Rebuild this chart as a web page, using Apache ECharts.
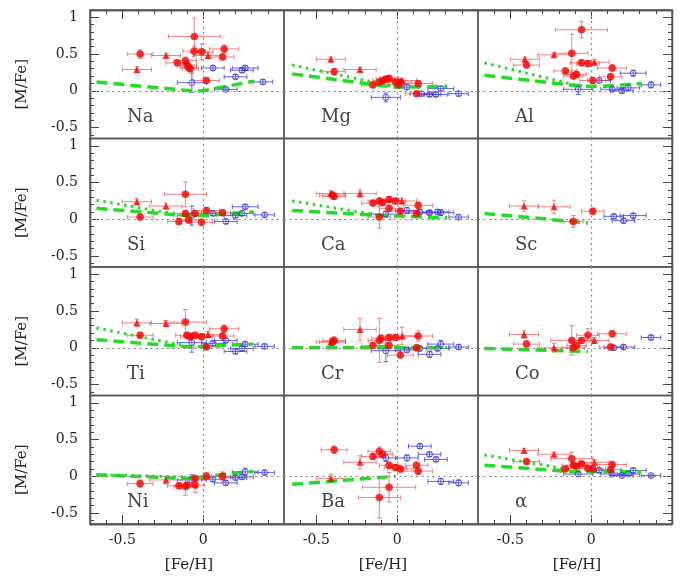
<!DOCTYPE html>
<html><head><meta charset="utf-8">
<script src="https://cdn.jsdelivr.net/npm/echarts@6/dist/echarts.min.js"></script>
<style>html,body{margin:0;padding:0;background:#fff}#c{width:681px;height:584px}</style>
</head><body><div id="c"></div><script>
// ---- tick values ----
const X_MINOR = [-0.6,-0.5,-0.4,-0.3,-0.2,-0.1,0,0.1,0.2,0.3,0.4];
const X_MAJOR = [-0.5,0];
const Y_MINOR = [-0.6,-0.5,-0.4,-0.3,-0.2,-0.1,0,0.1,0.2,0.3,0.4,0.5,0.6,0.7,0.8,0.9,1.0];
const Y_MAJOR = [-0.5,0,0.5,1];
const X_MIN=-0.7, X_MAX=0.5, Y_MIN=-0.65, Y_MAX=1.1;
const LABELS = ['Na','Mg','Al','Si','Ca','Sc','Ti','Cr','Co','Ni','Ba','α'];

// ---- data: [Fe/H], [M/Fe], errFe, errM ----
const Na_circ = [[-0.39,0.50,0.08,0.06],[-0.055,0.74,0.16,0.25],[-0.055,0.54,0.07,0.07],[-0.01,0.53,0.07,0.11],[0.13,0.57,0.09,0.05],[0.12,0.46,0.07,0.04],[-0.16,0.38,0.07,0.04],[-0.11,0.41,0.07,0.05],[-0.10,0.35,0.06,0.05],[-0.09,0.32,0.05,0.05],[-0.08,0.30,0.05,0.04],[0.02,0.14,0.08,0.04]];
const Na_tri = [[-0.41,0.29,0.09,0.04],[-0.23,0.48,0.09,0.03],[0.03,0.48,0.09,0.04]];
const Na_open = [[-0.07,0.11,0.09,0.13],[0.06,0.31,0.07,0.03],[0.14,0.02,0.07,0.02],[0.20,0.19,0.07,0.03],[0.24,0.28,0.07,0.03],[0.26,0.31,0.08,0.03],[0.37,0.12,0.06,0.03]];
const Na_dash = [[-0.66,0.12],[-0.08,0.0],[0.0,0.0],[0.31,0.13]];
const Na_dot = [];

const Mg_circ = [[-0.39,0.26,0.07,0.04],[-0.15,0.08,0.07,0.03],[-0.11,0.12,0.06,0.03],[-0.09,0.14,0.06,0.03],[-0.07,0.16,0.06,0.03],[-0.05,0.17,0.06,0.03],[-0.01,0.12,0.06,0.03],[0.01,0.08,0.07,0.03],[0.02,0.12,0.07,0.03],[0.13,0.10,0.09,0.03],[0.12,-0.04,0.07,0.03]];
const Mg_tri = [[-0.41,0.43,0.09,0.03],[-0.23,0.29,0.10,0.03],[0.03,0.14,0.09,0.03]];
const Mg_open = [[-0.07,-0.09,0.09,0.06],[0.06,0.05,0.07,0.03],[0.15,-0.04,0.07,0.03],[0.20,-0.05,0.07,0.03],[0.24,-0.05,0.07,0.03],[0.27,0.03,0.08,0.03],[0.38,-0.04,0.06,0.03]];
const Mg_dash = [[-0.65,0.23],[-0.10,0.07],[0.0,0.05],[0.31,0.06]];
const Mg_dot = [[-0.65,0.35],[0.0,0.05]];

const Al_circ = [[-0.06,0.83,0.16,0.11],[-0.12,0.51,0.10,0.26],[-0.40,0.35,0.08,0.04],[-0.06,0.38,0.07,0.04],[-0.02,0.37,0.07,0.04],[0.13,0.31,0.09,0.04],[-0.16,0.27,0.07,0.04],[-0.11,0.20,0.06,0.04],[-0.09,0.22,0.06,0.04],[0.01,0.14,0.08,0.04],[0.12,0.19,0.07,0.04]];
const Al_tri = [[-0.41,0.43,0.09,0.03],[-0.23,0.49,0.10,0.03],[0.02,0.39,0.09,0.04]];
const Al_open = [[-0.08,0.02,0.09,0.07],[0.05,0.14,0.07,0.02],[0.13,0.02,0.07,0.03],[0.19,0.0,0.07,0.03],[0.23,0.04,0.07,0.03],[0.26,0.24,0.08,0.04],[0.37,0.08,0.06,0.04]];
const Al_dash = [[-0.66,0.21],[-0.05,0.06],[0.08,0.06],[0.31,0.10]];
const Al_dot = [[-0.66,0.38],[-0.10,0.08],[0.0,0.05]];

const Si_circ = [[-0.11,0.34,0.13,0.17],[-0.39,0.03,0.08,0.04],[-0.15,-0.03,0.07,0.04],[-0.11,0.08,0.07,0.04],[-0.09,-0.01,0.06,0.04],[-0.05,0.08,0.06,0.04],[-0.01,-0.04,0.07,0.04],[0.02,0.12,0.08,0.04],[0.12,0.09,0.07,0.04]];
const Si_tri = [[-0.41,0.24,0.09,0.04],[-0.23,0.18,0.10,0.04]];
const Si_open = [[-0.07,0.05,0.09,0.13],[0.06,0.08,0.07,0.03],[0.14,-0.03,0.07,0.03],[0.20,0.05,0.07,0.03],[0.24,0.08,0.07,0.03],[0.26,0.17,0.08,0.03],[0.38,0.06,0.06,0.03]];
const Si_dash = [[-0.66,0.15],[-0.10,0.05],[0.0,0.05],[0.31,0.10]];
const Si_dot = [[-0.66,0.26],[-0.12,0.05]];

const Ca_circ = [[-0.40,0.33,0.08,0.04],[-0.39,0.31,0.07,0.04],[-0.15,0.22,0.07,0.04],[-0.11,0.03,0.07,0.15],[-0.11,0.25,0.07,0.04],[-0.09,0.23,0.06,0.04],[-0.05,0.27,0.06,0.04],[-0.05,0.15,0.06,0.04],[-0.01,0.25,0.06,0.04],[0.02,0.11,0.08,0.04],[0.13,0.19,0.09,0.04],[0.12,0.08,0.07,0.04]];
const Ca_tri = [[-0.41,0.35,0.09,0.04],[-0.23,0.35,0.10,0.05],[0.03,0.25,0.09,0.04]];
const Ca_open = [[-0.07,0.07,0.09,0.04],[0.06,0.12,0.07,0.04],[0.14,0.10,0.07,0.03],[0.20,0.09,0.07,0.03],[0.25,0.10,0.07,0.03],[0.27,0.09,0.08,0.04],[0.38,0.03,0.06,0.03]];
const Ca_dash = [[-0.65,0.12],[-0.09,0.05],[0.31,0.02]];
const Ca_dot = [[-0.65,0.25],[-0.10,0.05]];

const Sc_circ = [[-0.11,-0.03,0.06,0.08],[0.01,0.11,0.07,0.04]];
const Sc_tri = [[-0.415,0.18,0.09,0.07],[-0.23,0.17,0.10,0.09]];
const Sc_open = [[0.14,0.04,0.06,0.03],[0.20,-0.02,0.07,0.03],[0.26,0.05,0.08,0.03]];
const Sc_dash = [[-0.66,0.08],[-0.02,-0.05]];
const Sc_dot = [];

const Ti_circ = [[-0.11,0.35,0.13,0.17],[-0.39,0.17,0.08,0.04],[-0.10,0.17,0.07,0.04],[-0.08,0.15,0.06,0.04],[-0.05,0.17,0.06,0.04],[-0.01,0.15,0.07,0.04],[0.02,0.01,0.08,0.03],[0.12,0.16,0.07,0.04],[0.13,0.26,0.09,0.05]];
const Ti_tri = [[-0.41,0.34,0.09,0.05],[-0.23,0.33,0.10,0.04],[0.03,0.18,0.09,0.04]];
const Ti_open = [[-0.07,0.07,0.09,0.13],[0.06,0.06,0.07,0.03],[0.14,0.10,0.07,0.03],[0.20,-0.05,0.07,0.03],[0.24,-0.01,0.07,0.03],[0.26,0.05,0.08,0.03],[0.38,0.02,0.06,0.03]];
const Ti_dash = [[-0.66,0.11],[-0.08,0.01],[0.31,0.05]];
const Ti_dot = [[-0.66,0.27],[-0.12,0.03]];

const Cr_circ = [[-0.40,0.08,0.08,0.04],[-0.39,0.10,0.07,0.05],[-0.15,0.03,0.07,0.04],[-0.11,0.10,0.07,0.30],[-0.10,0.13,0.06,0.04],[-0.05,0.14,0.06,0.04],[-0.01,0.14,0.06,0.04],[-0.05,0.03,0.06,0.04],[0.02,-0.10,0.08,0.04],[0.13,0.16,0.09,0.07],[0.12,0.0,0.07,0.04]];
const Cr_tri = [[-0.41,0.08,0.09,0.05],[-0.23,0.25,0.10,0.15],[0.03,0.16,0.09,0.12]];
const Cr_open = [[-0.07,-0.04,0.09,0.15],[0.06,-0.03,0.07,0.03],[0.14,-0.01,0.07,0.03],[0.20,-0.09,0.07,0.04],[0.25,-0.01,0.07,0.03],[0.27,0.05,0.08,0.05],[0.38,0.01,0.06,0.03]];
const Cr_dash = [[-0.65,0.0],[0.31,0.0]];
const Cr_dot = [];

const Co_circ = [[-0.40,0.05,0.08,0.04],[-0.12,0.10,0.13,0.20],[-0.11,0.0,0.07,0.04],[-0.09,0.03,0.06,0.04],[-0.06,0.10,0.06,0.04],[-0.02,0.17,0.07,0.09],[0.13,0.19,0.09,0.04],[0.12,0.01,0.07,0.04]];
const Co_tri = [[-0.415,0.18,0.09,0.05],[-0.23,0.0,0.10,0.06],[0.02,0.10,0.09,0.04]];
const Co_open = [[0.14,0.0,0.06,0.03],[0.20,0.01,0.07,0.03],[0.37,0.14,0.06,0.03]];
const Co_dash = [[-0.66,-0.01],[-0.02,-0.05]];
const Co_dot = [];

const Ni_circ = [[-0.39,-0.10,0.08,0.05],[-0.15,-0.13,0.07,0.04],[-0.11,-0.14,0.07,0.12],[-0.10,-0.12,0.06,0.04],[-0.05,-0.12,0.06,0.10],[-0.05,-0.03,0.06,0.04],[0.02,0.0,0.08,0.05],[0.12,0.0,0.07,0.06]];
const Ni_tri = [[-0.23,-0.05,0.10,0.05]];
const Ni_open = [[-0.07,-0.05,0.09,0.07],[0.06,-0.04,0.07,0.03],[0.14,-0.09,0.07,0.03],[0.20,-0.02,0.07,0.03],[0.24,-0.01,0.07,0.03],[0.26,0.06,0.08,0.05],[0.38,0.05,0.06,0.03]];
const Ni_dash = [[-0.66,0.02],[-0.08,-0.03],[0.31,0.07]];
const Ni_dot = [[-0.66,0.02],[-0.10,-0.01]];

const Ba_circ = [[-0.39,0.36,0.08,0.05],[-0.15,0.27,0.07,0.04],[-0.11,0.34,0.07,0.06],[-0.09,0.30,0.06,0.04],[-0.05,0.15,0.06,0.04],[-0.01,0.12,0.07,0.04],[0.02,0.10,0.08,0.04],[0.12,0.15,0.07,0.04],[0.13,0.07,0.09,0.04],[-0.05,-0.15,0.165,0.20],[-0.11,-0.29,0.13,0.28]];
const Ba_tri = [[-0.23,0.19,0.10,0.09],[-0.41,-0.03,0.09,0.06]];
const Ba_open = [[-0.07,0.25,0.07,0.05],[0.06,0.25,0.07,0.04],[0.14,0.41,0.07,0.03],[0.20,0.30,0.07,0.03],[0.24,0.23,0.07,0.03],[0.27,-0.07,0.08,0.04],[0.38,-0.09,0.06,0.04]];
const Ba_dash = [[-0.65,-0.11],[-0.01,0.0]];
const Ba_dot = [];

const Alpha_circ = [[-0.40,0.20,0.08,0.03],[-0.16,0.10,0.07,0.03],[-0.12,0.24,0.13,0.09],[-0.11,0.15,0.07,0.03],[-0.09,0.14,0.06,0.03],[-0.06,0.17,0.06,0.03],[-0.02,0.11,0.07,0.03],[0.01,0.10,0.08,0.03],[0.13,0.16,0.09,0.03],[0.12,0.09,0.07,0.03]];
const Alpha_tri = [[-0.415,0.35,0.09,0.03],[-0.23,0.30,0.10,0.03],[0.02,0.19,0.09,0.04]];
const Alpha_open = [[-0.08,0.03,0.09,0.03],[0.05,0.08,0.07,0.03],[0.13,0.03,0.07,0.02],[0.19,0.01,0.07,0.02],[0.23,0.03,0.07,0.02],[0.26,0.08,0.08,0.03],[0.37,0.01,0.06,0.02]];
const Alpha_dash = [[-0.66,0.15],[-0.10,0.06],[0.31,0.06]];
const Alpha_dot = [[-0.66,0.29],[-0.10,0.08]];

const PANELS = [
  [Na_circ,Na_tri,Na_open,Na_dash,Na_dot],
  [Mg_circ,Mg_tri,Mg_open,Mg_dash,Mg_dot],
  [Al_circ,Al_tri,Al_open,Al_dash,Al_dot],
  [Si_circ,Si_tri,Si_open,Si_dash,Si_dot],
  [Ca_circ,Ca_tri,Ca_open,Ca_dash,Ca_dot],
  [Sc_circ,Sc_tri,Sc_open,Sc_dash,Sc_dot],
  [Ti_circ,Ti_tri,Ti_open,Ti_dash,Ti_dot],
  [Cr_circ,Cr_tri,Cr_open,Cr_dash,Cr_dot],
  [Co_circ,Co_tri,Co_open,Co_dash,Co_dot],
  [Ni_circ,Ni_tri,Ni_open,Ni_dash,Ni_dot],
  [Ba_circ,Ba_tri,Ba_open,Ba_dash,Ba_dot],
  [Alpha_circ,Alpha_tri,Alpha_open,Alpha_dash,Alpha_dot]
];

// ---- layout / style ----
const FONT = 'DejaVu Serif';
const COLS = [90, 284, 478], ROWS = [10, 138.5, 267, 395.5], W = 194, H = 128.5;
const RED = '#ff0000', RED_EB = 'rgba(240,90,90,0.75)', BLUE = '#3030e8', BLUE_EB = 'rgba(60,60,235,0.8)', GREEN = '#22dd22', FRAME = '#555';

function ebRender(color){
  return function(params, api){
    const x=api.value(0), y=api.value(1), ex=api.value(2), ey=api.value(3);
    const a=api.coord([x-ex,y]), b=api.coord([x+ex,y]), c=api.coord([x,y-ey]), d=api.coord([x,y+ey]);
    const st={stroke:color, lineWidth:1};
    const k=2.3;
    const L=(x1,y1,x2,y2)=>({type:'line',shape:{x1,y1,x2,y2},style:st});
    return {type:'group',children:[
      L(a[0],a[1],b[0],b[1]), L(a[0],a[1]-k,a[0],a[1]+k), L(b[0],b[1]-k,b[0],b[1]+k),
      L(c[0],c[1],d[0],d[1]), L(c[0]-k,c[1],c[0]+k,c[1]), L(d[0]-k,d[1],d[0]+k,d[1])
    ]};
  };
}
const fmt = v => (Math.abs(v)<1e-9 ? '0' : String(v));

const grids=[], xAxes=[], yAxes=[], series=[], graphics=[];
PANELS.forEach((p,i)=>{
  const r=Math.floor(i/3), c=i%3;
  const [circ,tri,open,dash,dot]=p;
  grids.push({left:COLS[c], top:ROWS[r], width:W, height:H, show:true, borderColor:FRAME, borderWidth:1.3});
  const xTicks = (r===0||r===3), yTicks = (c!==1);
  const xpos = r===0?'top':'bottom', ypos = c===2?'right':'left';
  const baseX = {gridIndex:i, type:'value', min:X_MIN, max:X_MAX, position:xpos, splitLine:{show:false},
    axisLine:{show:xTicks, onZero:false, lineStyle:{color:FRAME, width:1.3}}};
  const baseY = {gridIndex:i, type:'value', min:Y_MIN, max:Y_MAX, position:ypos, splitLine:{show:false},
    axisLine:{show:yTicks, onZero:false, lineStyle:{color:FRAME, width:1.3}}};
  xAxes.push(Object.assign({}, baseX, {axisTick:{show:xTicks, inside:true, length:4, customValues:X_MINOR, lineStyle:{color:'#444', width:1}}, axisLabel:{show:false}}));
  xAxes.push(Object.assign({}, baseX, {axisTick:{show:xTicks, inside:true, length:9, customValues:X_MAJOR, lineStyle:{color:'#444', width:1}},
    axisLabel:{show:r===3, customValues:X_MAJOR, formatter:fmt, margin:9, fontSize:14, fontFamily:FONT, color:'#222'}}));
  yAxes.push(Object.assign({}, baseY, {axisTick:{show:yTicks, inside:true, length:4, customValues:Y_MINOR, lineStyle:{color:'#444', width:1}}, axisLabel:{show:false}}));
  yAxes.push(Object.assign({}, baseY, {axisTick:{show:yTicks, inside:true, length:9, customValues:Y_MAJOR, lineStyle:{color:'#444', width:1}},
    axisLabel:{show:c===0, customValues:Y_MAJOR, formatter:fmt, margin:12, fontSize:14, fontFamily:FONT, color:'#222'}}));
  const xi=2*i, yi=2*i;
  series.push({type:'line', xAxisIndex:xi, yAxisIndex:yi, data:[], z:1, silent:true,
    markLine:{silent:true, symbol:'none', animation:false, label:{show:false},
      lineStyle:{color:'#888', type:[2,3.5], width:1.2}, data:[{xAxis:0},{yAxis:0}]}});
  series.push({type:'custom', xAxisIndex:xi, yAxisIndex:yi, data:open, z:2, silent:true, renderItem:ebRender(BLUE_EB), encode:{x:0,y:1}});
  series.push({type:'custom', xAxisIndex:xi, yAxisIndex:yi, data:circ.concat(tri), z:2, silent:true, renderItem:ebRender(RED_EB), encode:{x:0,y:1}});
  if (dash.length) series.push({type:'line', xAxisIndex:xi, yAxisIndex:yi, data:dash, symbol:'none', z:3, silent:true,
    lineStyle:{color:GREEN, width:3.5, type:[11,6]}});
  if (dot.length) series.push({type:'line', xAxisIndex:xi, yAxisIndex:yi, data:dot, symbol:'none', z:3, silent:true,
    lineStyle:{color:GREEN, width:3, type:[2.5,4.5]}});
  series.push({type:'scatter', xAxisIndex:xi, yAxisIndex:yi, data:open.map(d=>[d[0],d[1]]), symbol:'circle', symbolSize:6, z:4, silent:true,
    itemStyle:{color:'rgba(255,255,255,0)', borderColor:BLUE, borderWidth:1}});
  series.push({type:'scatter', xAxisIndex:xi, yAxisIndex:yi, data:circ.map(d=>[d[0],d[1]]), symbol:'circle', symbolSize:7.5, z:5, silent:true,
    itemStyle:{color:RED}});
  series.push({type:'scatter', xAxisIndex:xi, yAxisIndex:yi, data:tri.map(d=>[d[0],d[1]]), symbol:'triangle', symbolSize:7, z:5, silent:true,
    itemStyle:{color:RED}});
  graphics.push({type:'text', left:COLS[c]+37, top:ROWS[r]+98, style:{text:LABELS[i], font:'18px "DejaVu Serif"', fill:'#444'}});
});
// axis titles
ROWS.forEach(t=>{
  graphics.push({type:'text', x:22, y:t+H/2+10, rotation:Math.PI/2, style:{text:'[M/Fe]', font:'15px "DejaVu Serif"', fill:'#222', textAlign:'center', textVerticalAlign:'middle'}});
});
COLS.forEach(l=>{
  graphics.push({type:'text', x:l+W/2+2, y:565, style:{text:'[Fe/H]', font:'15px "DejaVu Serif"', fill:'#222', textAlign:'center', textVerticalAlign:'middle'}});
});

const chart = echarts.init(document.getElementById('c'), null, {renderer:'canvas'});
chart.setOption({animation:false, backgroundColor:'#fff', grid:grids, xAxis:xAxes, yAxis:yAxes, series, graphic:graphics});
</script></body></html>
